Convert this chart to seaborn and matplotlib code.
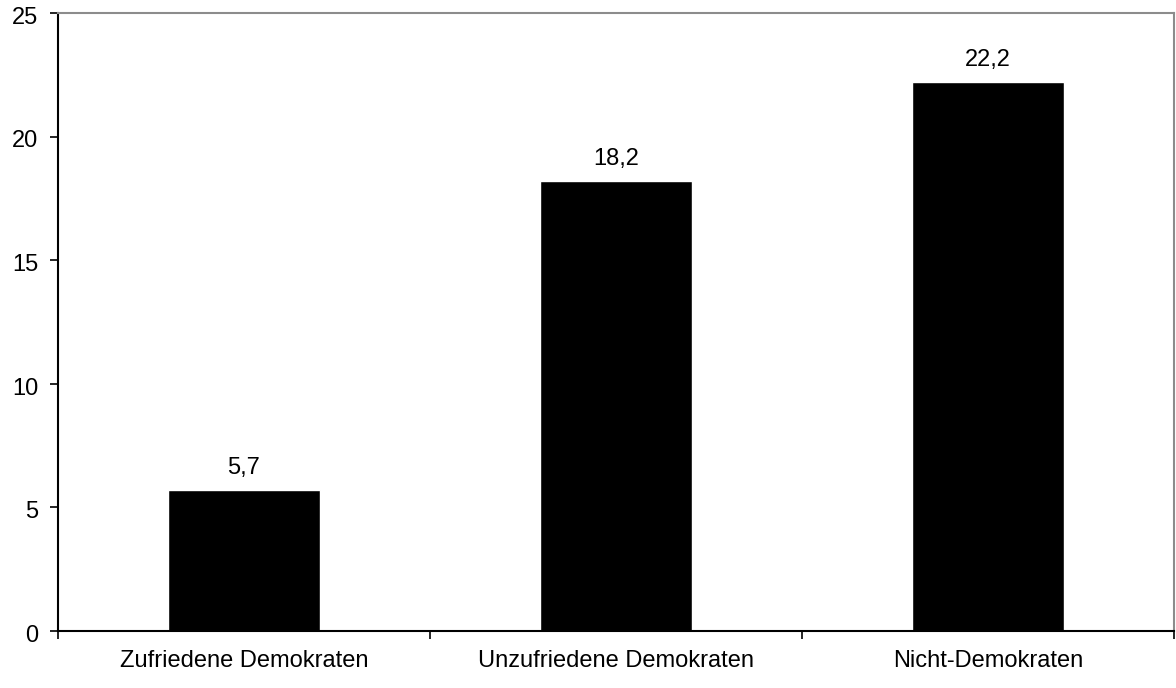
import matplotlib.pyplot as plt
import seaborn as sns
import numpy as np

categories = ["Zufriedene Demokraten", "Unzufriedene Demokraten", "Nicht-Demokraten"]
values = [5.7, 18.2, 22.2]
y_ticks = [0, 5, 10, 15, 20, 25]


def plot_bars():
    sns.set_style("white")
    plt.rcParams['font.family'] = ['Liberation Sans', 'DejaVu Sans']
    plt.rcParams['text.color'] = 'black'
    plt.rcParams['xtick.color'] = 'black'
    plt.rcParams['ytick.color'] = 'black'

    fig = plt.figure(figsize=(11.76, 6.88), dpi=100)
    ax = fig.add_axes([58 / 1176, 1 - 631 / 688, (1174 - 58) / 1176, (631 - 13) / 688])

    sns.barplot(x=categories, y=values, color="black", width=0.41,
                saturation=1, ax=ax)

    # value labels with decimal comma
    for i, v in enumerate(values):
        ax.annotate(f"{v:.1f}".replace(".", ","), (i, v), xytext=(0, 8),
                    textcoords="offset points", ha="center", va="bottom",
                    fontsize=17, color="black")

    ax.set_xlim(-0.5, len(categories) - 0.5)
    ax.set_ylim(0, 25)
    ax.set_yticks(y_ticks)
    ax.set_yticklabels([])
    # y labels sit a little below their ticks in the original
    for t in y_ticks:
        ax.annotate(str(t), xy=(0, t), xycoords=("axes fraction", "data"),
                    xytext=(-14, -3.5), textcoords="offset points",
                    ha="right", va="center", fontsize=17, color="black",
                    annotation_clip=False)

    # major ticks between categories, labels on minor ticks
    ax.set_xticks(np.arange(-0.5, len(categories), 1.0))
    ax.set_xticklabels([])
    ax.set_xticks(range(len(categories)), minor=True)
    ax.set_xticklabels(categories, minor=True, fontsize=17)
    ax.tick_params(axis="x", which="major", direction="out", length=6,
                   width=1.2, color="black", bottom=True)
    ax.tick_params(axis="x", which="minor", length=0, pad=14, bottom=True)
    ax.tick_params(axis="y", direction="out", length=6, width=1.2,
                   color="black", left=True)

    for side in ["left", "bottom"]:
        ax.spines[side].set_color("black")
        ax.spines[side].set_linewidth(1.5)
    for side in ["top", "right"]:
        ax.spines[side].set_color("#8c8c8c")
        ax.spines[side].set_linewidth(1.5)

    fig.savefig("out.png", dpi=100)


if __name__ == "__main__":
    plot_bars()
